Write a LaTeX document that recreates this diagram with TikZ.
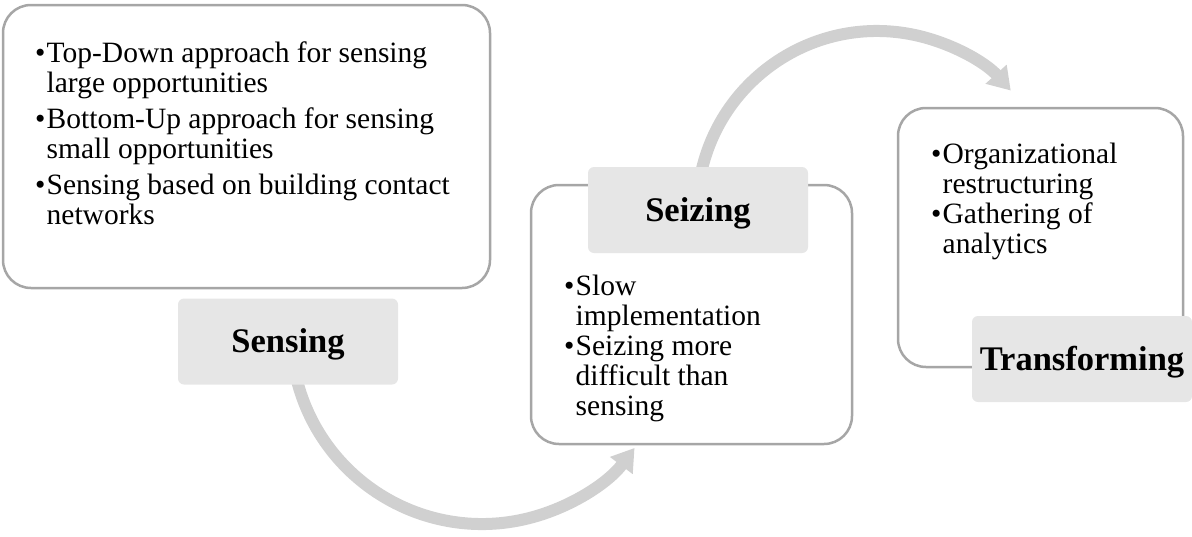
\documentclass[tikz,border=0pt]{standalone}
\usepackage{fontspec}
\setmainfont{Liberation Serif}
\usetikzlibrary{arrows.meta}
\definecolor{boxline}{HTML}{A6A6A6}
\definecolor{labfill}{HTML}{E6E6E6}
\definecolor{arcgray}{HTML}{D0D0D0}
\newcommand{\bul}{\makebox[11.5pt][l]{•}}
\newcommand{\ind}{\hspace*{11.5pt}}
\begin{document}
\begin{tikzpicture}[x=1pt,y=-1pt,
  outerbox/.style={draw=boxline, line width=2.5pt, rounded corners=28pt, fill=white, inner sep=0pt},
  labelbox/.style={fill=labfill, rounded corners=6pt, minimum width=220pt, minimum height=86pt, inner sep=0pt, text height=22pt, text depth=0pt, font=\fontsize{34.5}{40}\selectfont\bfseries},
  bodytext/.style={anchor=base west, inner sep=0pt, font=\fontsize{29.5}{30}\selectfont},
  cyclearc/.style={draw=arcgray, line width=12pt, -{Triangle[width=27pt,length=22pt]}}]
\useasboundingbox (0,0) rectangle (1192,536);
% outer boxes
\node[outerbox, minimum width=487pt, minimum height=283pt] (sensebox) at (246.5,146.5) {};
\node[outerbox, minimum width=321pt, minimum height=259pt] (seizebox) at (691.5,314.5) {};
\node[outerbox, minimum width=285pt, minimum height=259pt] (transbox) at (1040.5,237.5) {};
% arcs
\coordinate (c1) at (482,333);
\coordinate (c2) at (877,211);
\draw[cyclearc] (c1) ++(166:191) arc[start angle=166, end angle=37, radius=191];
\draw[cyclearc] (c2) ++(192:180) arc[start angle=192, end angle=318, radius=180];
% labels
\node[labelbox] (senselab) at (288,341.5) {Sensing};
\node[labelbox] (seizelab) at (698,210) {Seizing};
\node[labelbox] (translab) at (1082,359) {Transforming};
% body texts
\node[bodytext] (sensetext) at (35,62) {\begin{tabular}[t]{@{}l@{}}
\bul Top-Down approach for sensing\\
\ind large opportunities\\[6pt]
\bul Bottom-Up approach for sensing\\
\ind small opportunities\\[6pt]
\bul Sensing based on building contact\\
\ind networks
\end{tabular}};
\node[bodytext] (seizetext) at (564,295) {\begin{tabular}[t]{@{}l@{}}
\bul Slow\\
\ind implementation\\
\bul Seizing more\\
\ind difficult than\\
\ind sensing
\end{tabular}};
\node[bodytext] (transtext) at (931,163) {\begin{tabular}[t]{@{}l@{}}
\bul Organizational\\
\ind restructuring\\
\bul Gathering of\\
\ind analytics
\end{tabular}};
\end{tikzpicture}
\end{document}
